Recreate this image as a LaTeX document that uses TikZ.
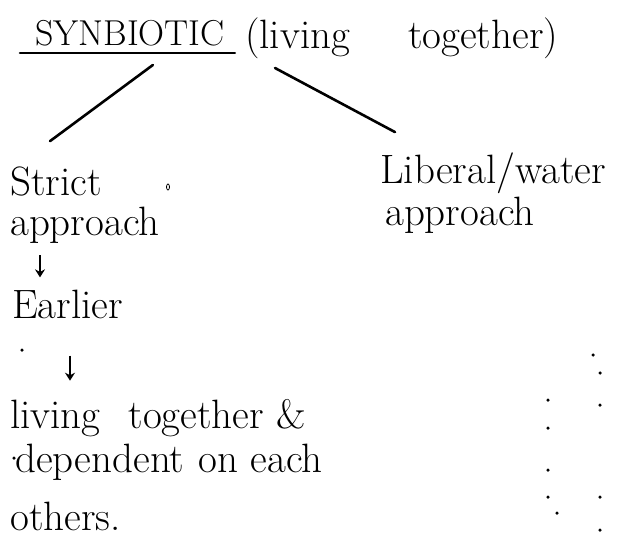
\documentclass[tikz,border=0pt]{standalone}
\usepackage{tikz}
\usetikzlibrary{arrows.meta,positioning,calc}
\tikzset{
  hand/.style={font=\fontsize{41}{46}\selectfont, inner sep=0pt, anchor=base west},
  branch/.style={line width=2.6pt, line cap=round},
  down/.style={-{Stealth[length=8pt,width=10pt]}, line width=1.8pt},
  speck/.style={fill=black, circle, inner sep=0pt, minimum size=3.5pt},
}
\begin{document}
\begin{tikzpicture}[x=1pt,y=-1pt]
  \useasboundingbox (0,0) rectangle (627,544);
  % heading
  \node[hand, font=\fontsize{36}{40}\selectfont] (syn) at (35,45) {SYNBIOTIC};
  \node[hand] (liv) at (245,48) {(living\hspace{58pt}together)};
  \draw[branch] ($(syn.base west)+(-15,8)$) -- ($(syn.base east)+(10,8)$);
  % left branch
  \node[hand] (strict) at (10,195) {Strict};
  \node[hand] (appr1) at (10,235) {approach};
  \node[hand] (earl) at (12,318) {Earlier};
  \node[hand] (liv2) at (10,428) {living\hspace{28pt}together \&};
  \node[hand] (dep) at (15,472) {dependent\hspace{14pt}on each};
  \node[hand] (oth) at (10,530) {others.};
  % right branch
  \node[hand] (lib) at (380,183) {Liberal/water};
  \node[hand] (appr2) at (385,225) {approach};
  % connectors
  \draw[branch] ($(syn.base east)+(-72,20)$) -- ($(strict.north west)+(40,-25)$);
  \draw[branch] ($(liv.base west)+(30,20)$) -- ($(lib.north west)+(15,-20)$);
  \coordinate (a1) at (40,0);
  \coordinate (a2) at (70,0);
  \draw[down] ($(appr1.south -| a1)+(0,12)$) -- ($(earl.north -| a1)+(0,-12)$);
  \draw[down] ($(earl.south -| a2)+(0,37)$) -- ($(liv2.north -| a2)+(0,-18)$);
  % stray marks
  \draw[line width=0.8pt] (168,187) ellipse (1.5 and 3);
  \foreach \p in {(22,350),(14,458),(593,355),(600,373),(548,400),(600,405),
                  (548,428),(548,470),(548,497),(600,497),(557,513),(600,530)}
    \node[speck] at \p {};
\end{tikzpicture}
\end{document}
